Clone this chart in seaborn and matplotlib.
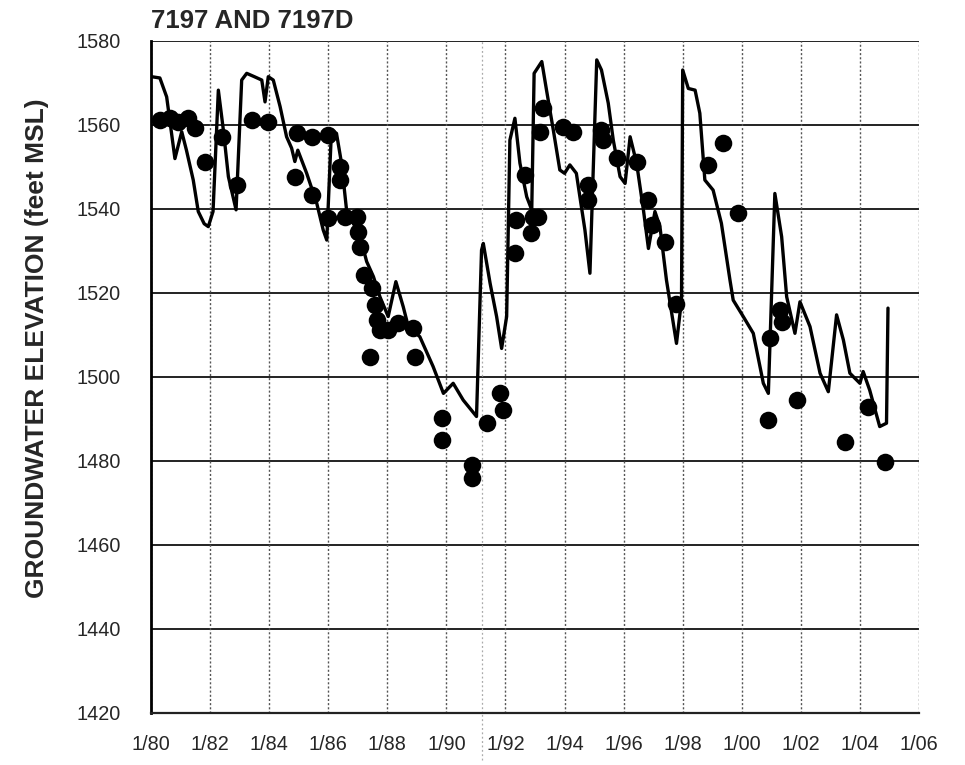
import matplotlib
matplotlib.use("Agg")
import matplotlib.pyplot as plt
import seaborn as sns
import pandas as pd

# simulated / modelled groundwater elevation (line)
line_year = [
    1980.02, 1980.30, 1980.53, 1980.81, 1981.04, 1981.20, 1981.43, 1981.60, 1981.80, 1981.94,
    1982.10, 1982.28, 1982.45, 1982.62, 1982.88, 1983.07, 1983.24, 1983.50, 1983.75, 1983.86,
    1983.97, 1984.14, 1984.37, 1984.59, 1984.76, 1984.87, 1984.97, 1985.27, 1985.61, 1985.83,
    1985.95, 1986.11, 1986.28, 1986.45, 1986.62, 1986.85, 1987.08, 1987.30, 1987.53, 1987.75,
    1988.03, 1988.29, 1988.54, 1988.71, 1989.10, 1989.55, 1989.90, 1990.23, 1990.57, 1991.02,
    1991.19, 1991.25, 1991.48, 1991.70, 1991.87, 1992.04, 1992.15, 1992.32, 1992.49, 1992.72,
    1992.89, 1992.97, 1993.23, 1993.39, 1993.62, 1993.84, 1994.00, 1994.18, 1994.40, 1994.52,
    1994.69, 1994.86, 1995.09, 1995.25, 1995.48, 1995.65, 1995.88, 1996.05, 1996.22, 1996.44,
    1996.67, 1996.84, 1997.06, 1997.23, 1997.45, 1997.79, 1997.96, 1998.00, 1998.19, 1998.42,
    1998.58, 1998.75, 1999.03, 1999.31, 1999.60, 1999.71, 2000.05, 2000.39, 2000.73, 2000.90,
    2001.12, 2001.35, 2001.52, 2001.80, 2001.97, 2002.31, 2002.65, 2002.93, 2003.21, 2003.44,
    2003.66, 2004.00, 2004.11, 2004.33, 2004.67, 2004.90, 2004.95,
]
line_elev = [
    1571.5, 1571.2, 1566.7, 1552.0, 1558.4, 1554.0, 1546.9, 1539.4, 1536.5, 1535.8,
    1539.4, 1568.3, 1558.8, 1547.7, 1539.8, 1570.7, 1572.3, 1571.5, 1570.7, 1565.5,
    1571.5, 1570.7, 1564.4, 1557.2, 1554.5, 1551.3, 1554.0, 1548.5, 1541.4, 1535.0,
    1532.6, 1558.8, 1558.0, 1550.9, 1539.8, 1536.6, 1533.4, 1527.5, 1523.9, 1519.1,
    1514.4, 1522.7, 1516.7, 1512.0, 1509.6, 1502.5, 1496.1, 1498.5, 1494.5, 1490.6,
    1530.2, 1531.8, 1522.3, 1514.4, 1506.8, 1514.4, 1556.4, 1561.6, 1550.9, 1542.9,
    1539.8, 1572.3, 1575.1, 1568.3, 1558.8, 1549.3, 1548.5, 1550.5, 1548.5, 1542.9,
    1535.0, 1524.7, 1575.5, 1573.1, 1565.2, 1556.4, 1547.7, 1546.1, 1557.2, 1550.9,
    1539.8, 1530.6, 1539.4, 1535.8, 1523.1, 1508.0, 1518.3, 1573.1, 1568.7, 1568.3,
    1562.8, 1546.9, 1544.5, 1536.6, 1523.1, 1518.3, 1514.4, 1510.4, 1498.5, 1496.1,
    1543.7, 1533.4, 1519.1, 1510.4, 1517.9, 1512.0, 1500.9, 1496.5, 1514.8, 1508.8,
    1500.9, 1498.5, 1501.3, 1496.9, 1488.2, 1489.0, 1516.4,
]

# measured water levels (dots)
obs_year = [
    1980.30, 1980.64, 1980.92, 1981.26, 1981.49, 1981.83, 1982.39, 1982.90, 1983.41, 1983.97,
    1984.87, 1984.93, 1985.44, 1985.44, 1986.00, 1986.00, 1986.40, 1986.40, 1986.57, 1986.96,
    1987.02, 1987.08, 1987.20, 1987.41, 1987.47, 1987.58, 1987.64, 1987.75, 1988.03, 1988.37,
    1988.88, 1988.94, 1989.84, 1989.84, 1990.86, 1990.86, 1991.36, 1991.81, 1991.93, 1992.32,
    1992.37, 1992.66, 1992.88, 1992.94, 1993.11, 1993.17, 1993.28, 1993.96, 1994.30, 1994.80,
    1994.80, 1995.25, 1995.31, 1995.76, 1996.44, 1996.84, 1996.95, 1997.40, 1997.79, 1998.87,
    1999.37, 1999.88, 2000.90, 2000.96, 2001.29, 2001.35, 2001.86, 2003.50, 2004.28, 2004.85,
]
obs_elev = [
    1561.2, 1561.6, 1560.8, 1561.6, 1559.2, 1551.3, 1557.2, 1545.7, 1561.2, 1560.8,
    1547.7, 1558.0, 1557.2, 1543.3, 1557.6, 1537.8, 1550.0, 1546.9, 1538.2, 1538.2,
    1534.6, 1531.0, 1524.3, 1504.8, 1521.1, 1517.1, 1513.6, 1511.2, 1511.2, 1512.8,
    1511.6, 1504.8, 1490.2, 1485.0, 1479.0, 1475.9, 1489.0, 1496.1, 1492.1, 1529.5,
    1537.4, 1548.1, 1534.2, 1538.2, 1538.2, 1558.4, 1564.0, 1559.6, 1558.4, 1545.7,
    1542.1, 1558.8, 1556.4, 1552.1, 1551.3, 1542.1, 1536.2, 1532.2, 1517.5, 1550.5,
    1555.6, 1539.0, 1489.8, 1509.2, 1516.0, 1513.2, 1494.5, 1484.6, 1492.9, 1479.8,
]

x_ticks = list(range(1980, 2007, 2))
x_labels = ["1/80", "1/82", "1/84", "1/86", "1/88", "1/90", "1/92",
            "1/94", "1/96", "1/98", "1/00", "1/02", "1/04", "1/06"]
y_ticks = list(range(1420, 1581, 20))
marker_year = 1991.2  # light dotted reference line

sns.set_style("white")
plt.rcParams["font.family"] = ["Liberation Sans", "DejaVu Sans"]

line_df = pd.DataFrame({"year": line_year, "elev": line_elev})
obs_df = pd.DataFrame({"year": obs_year, "elev": obs_elev})

fig = plt.figure(figsize=(9.65, 7.65), dpi=100)
ax = fig.add_axes([151 / 965, 1 - 713 / 765, 768 / 965, 672 / 765])

# grid first
for yv in y_ticks:
    ax.axhline(yv, color="#111111", lw=1.3, zorder=1)
for xv in x_ticks:
    ax.axvline(xv, color="#555555", lw=1.0, ls=(0, (1.5, 1.5)), zorder=1)
ax.plot([marker_year, marker_year], [0, 1.0], transform=ax.get_xaxis_transform(),
        color="#aaaaaa", lw=0.9, ls=(0, (1.5, 2)), zorder=1)
ax.plot([marker_year, marker_year], [-0.07, 0.0], transform=ax.get_xaxis_transform(),
        color="#aaaaaa", lw=0.9, ls=(0, (1.5, 2)), zorder=1, clip_on=False)

sns.lineplot(data=line_df, x="year", y="elev", ax=ax, color="black", lw=2.4,
             estimator=None, sort=False, zorder=3)
sns.scatterplot(data=obs_df, x="year", y="elev", ax=ax, color="black", s=160,
                edgecolor="black", linewidth=0, zorder=4)

ax.set_xlim(1980, 2006)
ax.set_ylim(1420, 1580)
ax.set_xticks(x_ticks)
ax.set_xticklabels(x_labels)
ax.set_yticks(y_ticks)
ax.set_xlabel("")
ax.set_ylabel("")
ax.tick_params(axis="x", direction="out", length=7, width=1.6, pad=9,
               labelsize=14.3, color="black")
ax.tick_params(axis="y", direction="out", length=8, width=1.2, pad=14,
               labelsize=14.3, color="black")

for side in ["top", "right"]:
    ax.spines[side].set_visible(False)
ax.spines["left"].set_linewidth(2.0)
ax.spines["left"].set_color("black")
ax.spines["bottom"].set_linewidth(1.6)
ax.spines["bottom"].set_color("#222222")

fig.text(37 / 965, 1 - 348 / 765, "GROUNDWATER ELEVATION (feet MSL)", fontsize=19,
         fontweight="bold", rotation=90, ha="center", va="center")
fig.text(151 / 965, 1 - 28 / 765, "7197 AND 7197D", fontsize=18.5,
         fontweight="bold", ha="left", va="baseline")

fig.savefig("out.png", dpi=100, facecolor="white")
